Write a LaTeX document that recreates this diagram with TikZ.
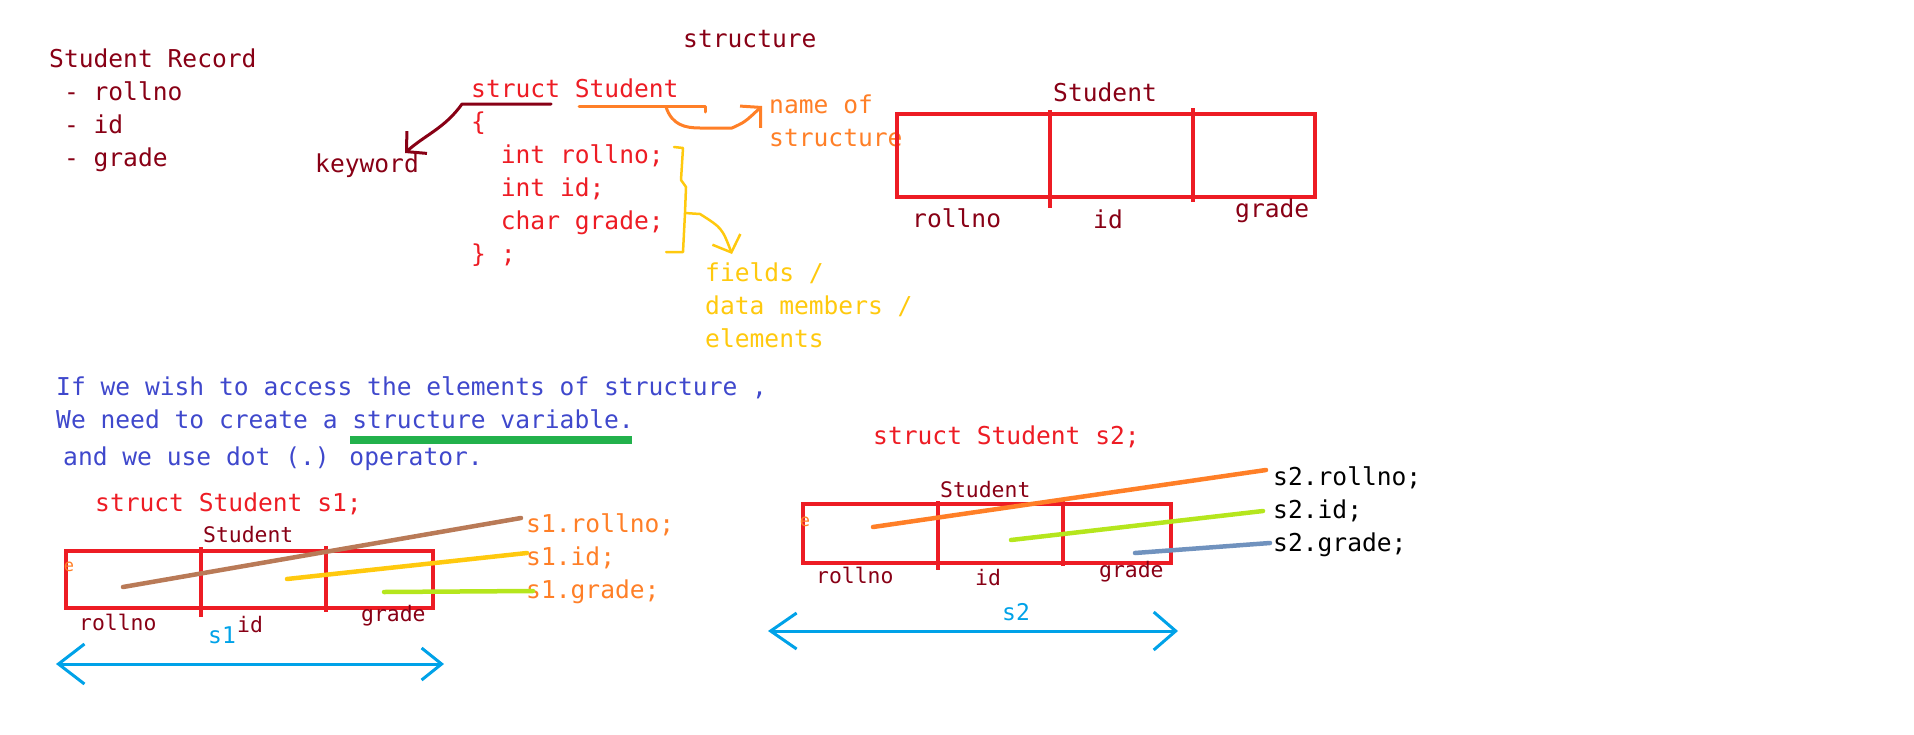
\documentclass[tikz,border=0pt]{standalone}
\usepackage{fontspec}
\setmainfont{DejaVu Sans Mono}
\usetikzlibrary{arrows.meta}

\definecolor{maroon}{HTML}{880015}
\definecolor{pred}{HTML}{ED1C24}
\definecolor{porange}{HTML}{FF7F27}
\definecolor{pgold}{HTML}{FFC90E}
\definecolor{pindigo}{HTML}{3F48CC}
\definecolor{pgreen}{HTML}{22B14C}
\definecolor{pblue}{HTML}{00A2E8}
\definecolor{pbrown}{HTML}{B97A57}
\definecolor{plime}{HTML}{B5E61D}
\definecolor{pslate}{HTML}{7092BE}

\tikzset{
  txt/.style={font=\fontsize{24.6}{33}\selectfont, inner sep=0pt, anchor=base west, align=left},
  lbl/.style={font=\fontsize{21.4}{26}\selectfont, inner sep=0pt, anchor=base west, maroon},
  cell/.style={pred, line width=3.5pt},
  pen/.style={line width=3pt, line cap=round, line join=round},
  hl/.style={line width=4.5pt, line cap=round},
  tip/.style={-{Straight Barb[length=14pt,width=30pt]}},
}

\begin{document}
\begin{tikzpicture}[x=1pt,y=-1pt]
  \useasboundingbox (0,0) rectangle (1914,734);

  \node[txt, maroon] (title) at (683,47) {structure};
  \node[txt, maroon] (record) at (49,166) {Student Record\\\ - rollno\\\ - id\\\ - grade};
  \node[txt, pred] (code) at (471,262) {struct Student\\\{\\\ \ int rollno;\\\ \ int id;\\\ \ char grade;\\\} ;};
  \node[txt, maroon] (kw) at (315,172) {keyword};
  \node[txt, porange] (name) at (769,146) {name of\\structure};
  \node[txt, pgold] (fields) at (705,347) {fields /\\data members /\\elements};

  \draw[pen, maroon, tip]
    (551,104) coordinate (kwa) -- (462,104) .. controls (445,128) and (425,135) .. (405,153) coordinate (kwb);
  \draw[pen, porange] (579,106) coordinate (sta) -- (705,106) -- (705,112);
  \draw[pen, porange, tip]
    (666,107) .. controls (672,125) and (685,128) .. (700,128) -- (732,128) .. controls (745,122) .. (762,106) coordinate (nmb);
  \draw[pen, pgold, line width=2.5pt]
    (674,147) -- (683,148) -- (681,180) -- (686,187) -- (685,213) coordinate (brc) -- (683,252) -- (666,252);
  \draw[pen, pgold, line width=2.5pt, tip] (brc) -- (700,214) .. controls (722,228) .. (732,254) coordinate (fdb);

  % record layout
  \node[txt, maroon] (stu) at (1053,101) {Student};
  \draw[cell, line width=4pt] (897,114) rectangle (1315,197);
  \draw[cell, line width=4pt] (1050,110) -- (1050,208) (1193,108) -- (1193,202);
  \node[txt, maroon] (f1) at (912,227) {rollno};
  \node[txt, maroon] (f2) at (1093,228) {id};
  \node[txt, maroon] (f3) at (1235,217) {grade};

  \node[txt, pindigo] (para) at (56,428) {If we wish to access the elements of structure ,\\We need to create a structure variable.};
  \node[txt, pindigo] (dot) at (63,465) {and we use dot (.) operator.};
  \draw[pgreen, line width=8pt] (350,440) -- (632,440);

  % variable s1
  \node[txt, pred] (decl1) at (95,511) {struct Student s1;};
  \node[lbl] (stu1) at (203,542) {Student};
  \draw[cell] (66,551) rectangle (433,608);
  \draw[cell] (201,547) -- (201,617) (326,546) -- (326,612);
  \node[lbl] (a1) at (79,630) {rollno};
  \node[lbl] (b1) at (237,632) {id};
  \node[lbl] (c1) at (361,621) {grade};
  \node[porange, font=\fontsize{17}{20}\selectfont, inner sep=0pt] (e1) at (69,567) {e};
  \node[txt, pblue, font=\fontsize{23}{26}\selectfont] (s1) at (208,643) {s1};
  \node[txt, porange] (acc1) at (526,598) {s1.rollno;\\s1.id;\\s1.grade;};
  \draw[hl, pbrown] (123,587) -- (521,518);
  \draw[hl, pgold] (287,579) -- (527,553);
  \draw[hl, plime] (384,592) -- (533,591);
  \draw[pblue, line width=3pt, {Straight Barb[length=26pt,width=40pt]}-{Straight Barb[length=20pt,width=32pt]}]
    (56,664) coordinate (l1) -- (444,664) coordinate (r1);

  % variable s2
  \node[txt, pred] (decl2) at (873,444) {struct Student s2;};
  \node[lbl] (stu2) at (940,497) {Student};
  \draw[cell] (803,504) rectangle (1171,563);
  \draw[cell] (938,501) -- (938,570) (1063,501) -- (1063,566);
  \node[lbl] (a2) at (816,583) {rollno};
  \node[lbl] (b2) at (975,585) {id};
  \node[lbl] (c2) at (1099,577) {grade};
  \node[porange, font=\fontsize{17}{20}\selectfont, inner sep=0pt] (e2) at (805,522) {e};
  \node[txt, pblue, font=\fontsize{23}{26}\selectfont] (s2) at (1002,620) {s2};
  \node[txt] (acc2) at (1273,551) {s2.rollno;\\s2.id;\\s2.grade;};
  \draw[hl, porange] (873,527) -- (1266,470);
  \draw[hl, plime] (1011,540) -- (1263,511);
  \draw[hl, pslate] (1135,553) -- (1270,543);
  \draw[pblue, line width=3pt, {Straight Barb[length=26pt,width=36pt]}-{Straight Barb[length=22pt,width=38pt]}]
    (768,631) coordinate (l2) -- (1178,631) coordinate (r2);
\end{tikzpicture}
\end{document}
